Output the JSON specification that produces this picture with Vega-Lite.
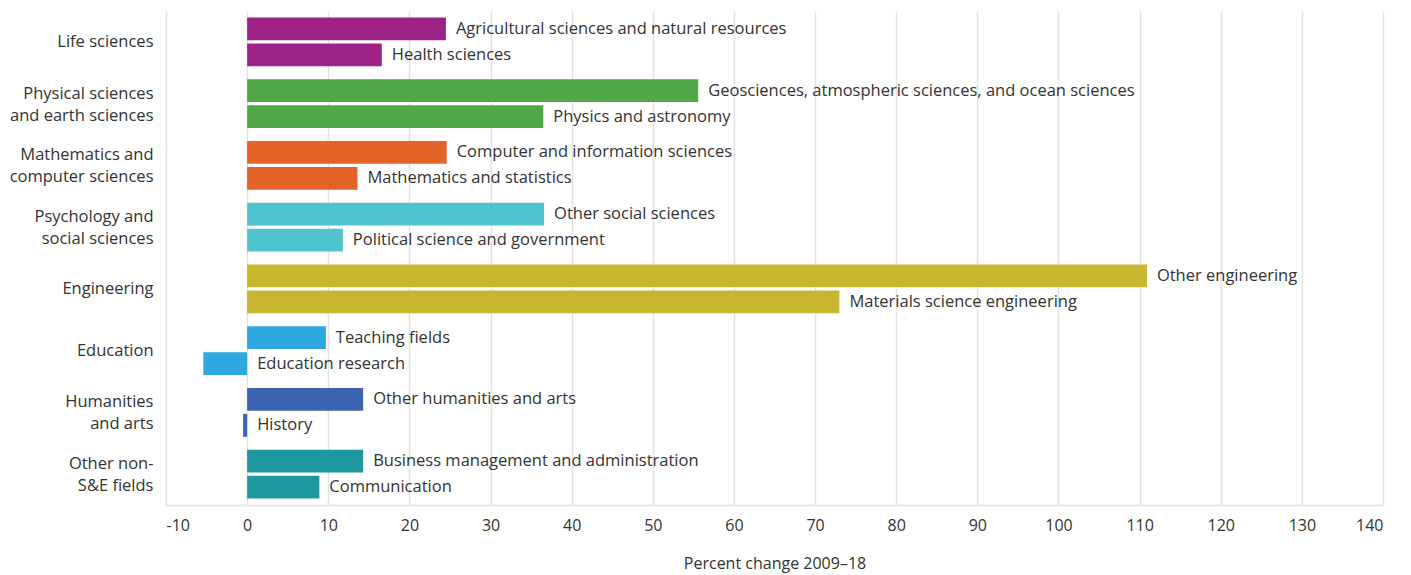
{
  "$schema": "https://vega.github.io/schema/vega-lite/v6.json",
  "autosize": {"type": "none"},
  "padding": {"left": 166, "top": 11, "right": 28, "bottom": 70},
  "width": 1217,
  "height": 494,
  "background": "white",
  "config": {
    "font": "Open Sans",
    "view": {"stroke": null}
  },
  "data": {
    "values": [
      {"group": "Life sciences", "rank": "a", "field": "Agricultural sciences and natural resources", "value": 24.5},
      {"group": "Life sciences", "rank": "b", "field": "Health sciences", "value": 16.6},
      {"group": "Physical sciences|and earth sciences", "rank": "a", "field": "Geosciences, atmospheric sciences, and ocean sciences", "value": 55.6},
      {"group": "Physical sciences|and earth sciences", "rank": "b", "field": "Physics and astronomy", "value": 36.5},
      {"group": "Mathematics and|computer sciences", "rank": "a", "field": "Computer and information sciences", "value": 24.6},
      {"group": "Mathematics and|computer sciences", "rank": "b", "field": "Mathematics and statistics", "value": 13.6},
      {"group": "Psychology and|social sciences", "rank": "a", "field": "Other social sciences", "value": 36.6},
      {"group": "Psychology and|social sciences", "rank": "b", "field": "Political science and government", "value": 11.8},
      {"group": "Engineering", "rank": "a", "field": "Other engineering", "value": 110.9},
      {"group": "Engineering", "rank": "b", "field": "Materials science engineering", "value": 73.0},
      {"group": "Education", "rank": "a", "field": "Teaching fields", "value": 9.7},
      {"group": "Education", "rank": "b", "field": "Education research", "value": -5.4},
      {"group": "Humanities|and arts", "rank": "a", "field": "Other humanities and arts", "value": 14.3},
      {"group": "Humanities|and arts", "rank": "b", "field": "History", "value": -0.5},
      {"group": "Other non-|S&E fields", "rank": "a", "field": "Business management and administration", "value": 14.3},
      {"group": "Other non-|S&E fields", "rank": "b", "field": "Communication", "value": 8.9}
    ]
  },
  "encoding": {
    "y": {
      "field": "group", "type": "nominal", "sort": null,
      "scale": {"paddingInner": 0.21, "paddingOuter": 0.105},
      "axis": {
        "title": null, "domain": false, "ticks": false, "grid": false,
        "labelExpr": "split(datum.label, '|')",
        "labelFontSize": 16.5, "labelColor": "#333333", "labelPadding": 13,
        "labelLineHeight": 22, "labelAlign": "right", "labelBaseline": "middle",
        "labelOffset": {"condition": {"test": "indexof(datum.value, '|') >= 0", "value": -10}, "value": 0}
      }
    },
    "yOffset": {
      "field": "rank", "type": "nominal",
      "scale": {"paddingInner": 0.12, "paddingOuter": 0}
    },
    "color": {
      "field": "group", "type": "nominal", "legend": null,
      "scale": {
        "domain": ["Life sciences", "Physical sciences|and earth sciences", "Mathematics and|computer sciences", "Psychology and|social sciences", "Engineering", "Education", "Humanities|and arts", "Other non-|S&E fields"],
        "range": ["#9C2385", "#52A846", "#E46428", "#4FC4CE", "#C8B62F", "#2EA9E0", "#3D64B0", "#1E979E"]
      }
    }
  },
  "layer": [
    {
      "mark": {"type": "bar"},
      "encoding": {
        "x": {
          "field": "value", "type": "quantitative",
          "scale": {"domain": [-10, 140], "nice": false, "zero": false},
          "axis": {
            "values": [-10, 0, 10, 20, 30, 40, 50, 60, 70, 80, 90, 100, 110, 120, 130, 140],
            "labelExpr": "'' + datum.value",
            "title": "Percent change 2009–18", "titleFontSize": 16, "titleFontWeight": "normal",
            "titleColor": "#333333", "titlePadding": 22,
            "labelFontSize": 16, "labelColor": "#333333", "labelPadding": 12,
            "ticks": false, "domainColor": "#e0e0e0", "domainWidth": 1.5,
            "gridColor": "#e3e3e3", "gridWidth": 1.5
          }
        }
      }
    },
    {
      "transform": [{"calculate": "max(datum.value, 0)", "as": "lx"}],
      "mark": {"type": "text", "align": "left", "baseline": "middle", "dx": 10, "fontSize": 16.5, "color": "#333333"},
      "encoding": {
        "x": {"field": "lx", "type": "quantitative"},
        "text": {"field": "field"},
        "color": {"value": "#333333"}
      }
    }
  ]
}
